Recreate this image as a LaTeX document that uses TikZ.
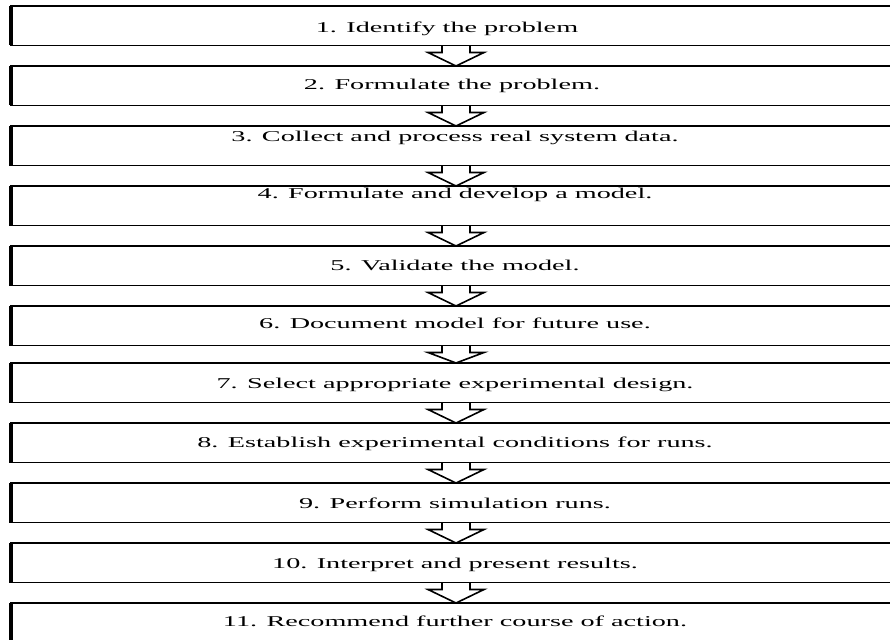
\documentclass[tikz,border=0pt]{standalone}
\usepackage{fontspec}
\setmainfont{Liberation Serif}
\usetikzlibrary{calc}
\begin{document}
\begin{tikzpicture}[x=1pt,y=-1pt,
  stepbox/.style={draw=black,line width=1.6pt,minimum width=900pt,minimum height=39.5pt,
    anchor=north west,inner sep=0pt,outer sep=0pt},
  leftedge/.style={line width=3.6pt},
  arr/.style={draw=black,line width=1.6pt,line join=miter},
  steptext/.style={anchor=base,inner sep=0pt,font=\fontsize{15}{18}\selectfont}]
\useasboundingbox (0,0) rectangle (890,639);
\fill[white] (0,0) rectangle (890,639);
\clip (0,0) rectangle (890,639);
\coordinate (ax) at (456,0);
\foreach \i/\t in {1/6,2/66,3/126,4/186,5/246,6/306,7/363,8/423,9/483,10/543,11/603}{
  \node[stepbox] (b\i) at (11,\t) {};
  \draw[leftedge] (b\i.north west) -- (b\i.south west);
}
\newcommand\flowarrow[2]{%
  \draw[arr] ($(#1.south -| ax)+(-14,0)$) -- ($(#1.south -| ax)+(-14,7)$)
    -- ($(#1.south -| ax)+(-28,7)$) -- (#2.north -| ax)
    -- ($(#1.south -| ax)+(28,7)$) -- ($(#1.south -| ax)+(14,7)$)
    -- ($(#1.south -| ax)+(14,0)$);}
\flowarrow{b1}{b2}
\flowarrow{b2}{b3}
\flowarrow{b3}{b4}
\flowarrow{b4}{b5}
\flowarrow{b5}{b6}
\flowarrow{b6}{b7}
\flowarrow{b7}{b8}
\flowarrow{b8}{b9}
\flowarrow{b9}{b10}
\flowarrow{b10}{b11}
\newcommand\wide[1]{\scalebox{1.88}[1]{#1}}
\node[steptext] (t1) at (447,33) {\wide{1. Identify the problem}};
\node[steptext] (t2) at (452,90) {\wide{2. Formulate the problem.}};
\node[steptext] (t3) at (455,142) {\wide{3. Collect and process real system data.}};
\node[steptext] (t4) at (455,198) {\wide{4. Formulate and develop a model.}};
\node[steptext] (t5) at (455,270) {\wide{5. Validate the model.}};
\node[steptext] (t6) at (455,328) {\wide{6. Document model for future use.}};
\node[steptext] (t7) at (455,388) {\wide{7. Select appropriate experimental design.}};
\node[steptext] (t8) at (455,447) {\wide{8. Establish experimental conditions for runs.}};
\node[steptext] (t9) at (455,508) {\wide{9. Perform simulation runs.}};
\node[steptext] (t10) at (455,568) {\wide{10. Interpret and present results.}};
\node[steptext] (t11) at (455,626) {\wide{11. Recommend further course of action.}};
\end{tikzpicture}
\end{document}
